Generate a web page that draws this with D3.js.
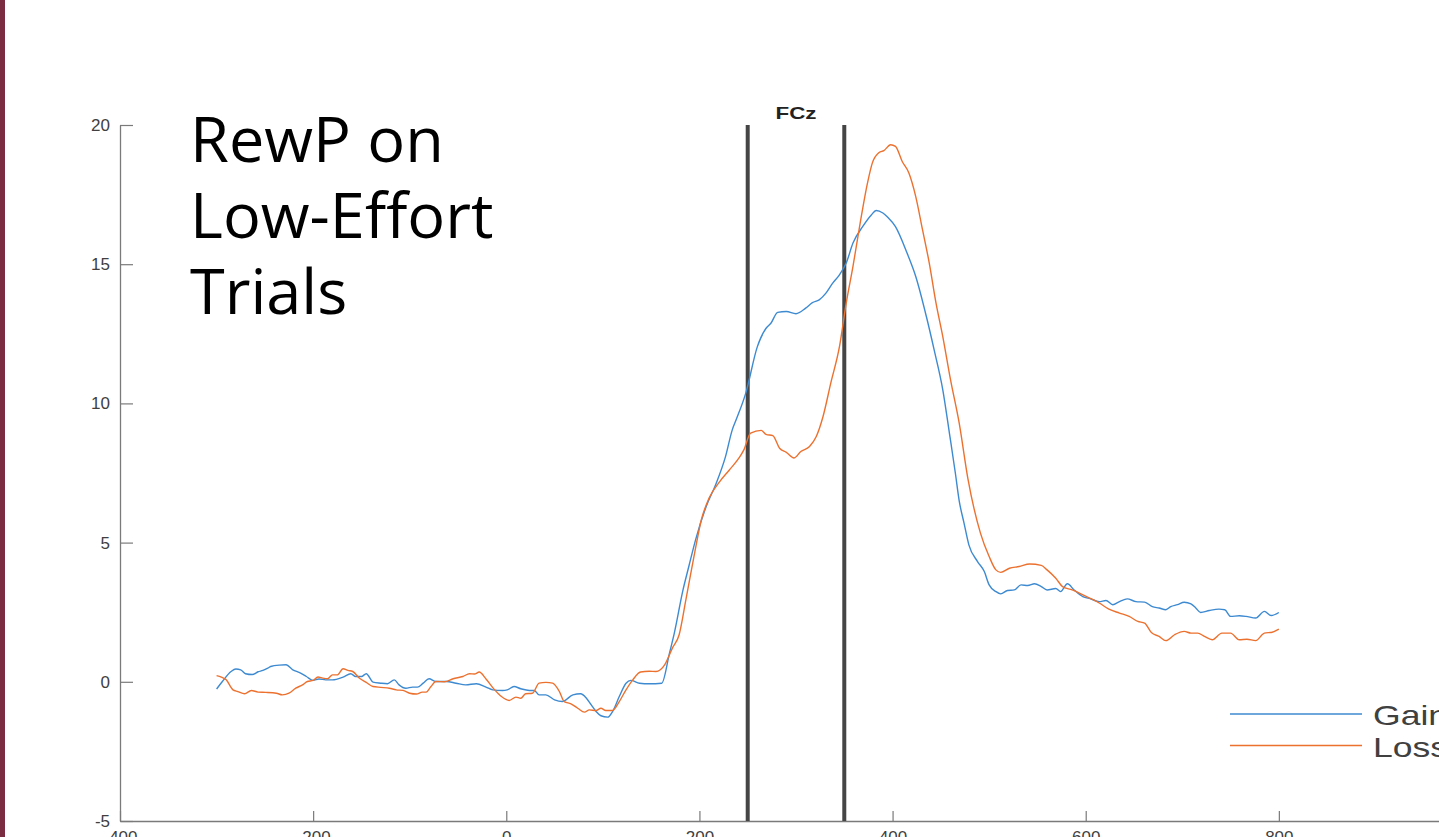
<!DOCTYPE html>
<html>
<head>
<meta charset="utf-8">
<script src="https://cdn.jsdelivr.net/npm/d3@7/dist/d3.min.js"></script>
<style>
  html, body { margin: 0; padding: 0; background: #fff; overflow: hidden; }
  svg { display: block; }
</style>
</head>
<body>
<svg id="chart" width="1439" height="837"></svg>
<script>
// ---- data (time in ms, amplitude in µV) ----
const gainTime = [-300,-294,-285,-280,-275,-270,-263,-257,-252,-247,-244,-235,-228,-221,-214,-207,-200,-194,-187,-180,-169,-161,-156,-150,-145,-138,-130,-123,-116,-111,-104,-97,-92,-86,-80,-73,-62,-52,-42,-31,-21,-14,-4,1,8,15,24,29,34,41,50,58,69,77,83,88,93,98,105,110,117,124,129,138,148,161,169,174,183,189,196,207,217,227,234,238,248,260,269,274,281,290,300,310,317,324,331,338,345,352,359,369,378,383,390,395,403,415,424,435,443,452,459,465,469,474,479,488,495,500,507,512,519,526,533,540,547,554,560,569,574,581,588,597,605,614,621,628,635,643,652,661,669,676,683,688,695,702,709,714,719,728,738,744,750,759,766,776,785,792,800];
const gainValues = [-0.26,0.01,0.37,0.46,0.43,0.29,0.26,0.36,0.41,0.49,0.55,0.60,0.61,0.43,0.33,0.19,0.05,0.10,0.07,0.07,0.17,0.29,0.19,0.19,0.29,-0.01,-0.05,-0.07,0.07,-0.11,-0.23,-0.19,-0.19,-0.05,0.11,0.01,0.01,-0.05,-0.11,-0.07,-0.19,-0.29,-0.31,-0.29,-0.17,-0.25,-0.31,-0.31,-0.47,-0.47,-0.65,-0.71,-0.47,-0.43,-0.59,-0.83,-1.07,-1.22,-1.27,-1.07,-0.53,-0.05,0.05,-0.05,-0.07,-0.05,1.03,1.75,3.30,4.14,5.10,6.30,7.10,8.09,9.05,9.41,10.37,12.04,12.70,12.88,13.27,13.30,13.22,13.42,13.62,13.72,13.96,14.32,14.62,15.04,15.76,16.35,16.77,16.93,16.84,16.69,16.35,15.40,14.56,13.12,11.93,10.49,8.90,7.50,6.50,5.70,4.92,4.32,3.96,3.48,3.24,3.16,3.28,3.30,3.48,3.46,3.52,3.42,3.30,3.35,3.24,3.52,3.30,3.06,2.98,2.88,2.92,2.77,2.88,2.98,2.88,2.86,2.70,2.65,2.59,2.70,2.77,2.86,2.80,2.65,2.49,2.56,2.61,2.59,2.35,2.37,2.35,2.29,2.53,2.38,2.49];

const lossTime = [-300,-295,-290,-283,-278,-271,-264,-257,-249,-238,-232,-225,-218,-211,-206,-200,-195,-190,-185,-180,-175,-169,-164,-159,-152,-145,-138,-130,-121,-114,-107,-100,-93,-87,-83,-78,-73,-64,-55,-45,-38,-33,-28,-21,-12,-5,3,10,15,20,27,34,41,48,55,60,67,74,81,86,93,98,103,110,117,124,131,139,148,155,164,172,179,186,195,202,210,221,231,241,246,253,264,269,276,283,290,298,305,314,321,328,336,345,352,359,367,374,379,386,391,398,403,410,417,424,431,438,445,452,460,469,478,491,500,507,512,521,531,542,554,560,569,576,586,595,604,614,624,635,645,654,661,668,676,683,692,702,709,716,723,731,741,750,759,767,776,785,793,800];
const lossValues = [0.22,0.17,0.07,-0.29,-0.35,-0.43,-0.31,-0.37,-0.38,-0.41,-0.47,-0.41,-0.23,-0.11,0.01,0.05,0.17,0.13,0.11,0.25,0.25,0.47,0.41,0.37,0.13,-0.02,-0.17,-0.20,-0.23,-0.29,-0.31,-0.41,-0.44,-0.37,-0.37,-0.17,0.01,0.00,0.11,0.19,0.29,0.28,0.35,0.10,-0.29,-0.53,-0.67,-0.55,-0.59,-0.43,-0.41,-0.05,-0.02,-0.05,-0.35,-0.71,-0.79,-0.95,-1.09,-1.01,-1.03,-0.95,-1.03,-1.03,-0.71,-0.29,0.07,0.35,0.38,0.37,0.61,1.21,1.69,2.95,4.62,5.82,6.60,7.19,7.61,8.04,8.33,8.93,9.03,8.89,8.84,8.39,8.24,8.04,8.27,8.45,8.81,9.53,10.73,12.04,13.60,14.92,16.59,17.91,18.63,19.01,19.08,19.29,19.23,18.69,18.27,17.43,16.24,15.04,13.60,12.40,10.85,9.29,7.30,5.34,4.50,4.02,3.93,4.08,4.14,4.23,4.18,4.02,3.72,3.42,3.30,3.16,3.01,2.83,2.61,2.47,2.35,2.17,2.11,1.77,1.63,1.48,1.69,1.81,1.75,1.75,1.63,1.51,1.75,1.75,1.51,1.53,1.48,1.75,1.78,1.89];

const xTicks = [-400, -200, 0, 200, 400, 600, 800, 1000];
const yTicks = [-5, 0, 5, 10, 15, 20];
const xDomain = [-400, 1000];
const yDomain = [-5, 20];
const windowMarks = [250, 350];
const seriesNames = ["Gain", "Loss"];
const seriesColors = ["#3d8ad1", "#ec712f"];
const titleLines = ["RewP on", "Low-Effort", "Trials"];
const electrode = "FCz";

// ---- drawing ----
const svg = d3.select("#chart");

// maroon strip on the left edge
svg.append("rect").attr("x", 0).attr("y", 0).attr("width", 5).attr("height", 837).attr("fill", "#7b2c43");

const x = d3.scaleLinear().domain(xDomain).range([120, 1472]);
const y = d3.scaleLinear().domain(yDomain).range([821, 125]);

const axisColor = "#7a7a7a";
const labelColor = "#404040";
const axisFont = "'Liberation Sans', Arial, Helvetica, sans-serif";
const fmt = d => String(d);

const gx = svg.append("g").attr("transform", `translate(0,${y(-5)})`)
  .call(d3.axisBottom(x).tickValues(xTicks).tickFormat(fmt).tickSize(-10).tickSizeOuter(0).tickPadding(10));
const gy = svg.append("g").attr("transform", `translate(${x(-400)},0)`)
  .call(d3.axisLeft(y).tickValues(yTicks).tickFormat(fmt).tickSize(-13).tickSizeOuter(0).tickPadding(10));

[gx, gy].forEach(g => {
  g.select(".domain").attr("stroke", axisColor).attr("stroke-width", 1.3);
  g.selectAll(".tick line").attr("stroke", axisColor).attr("stroke-width", 1.2);
  g.selectAll(".tick text").attr("fill", labelColor).style("font-family", axisFont).style("font-size", "17px");
});

// analysis window lines
svg.selectAll("line.win").data(windowMarks).join("line")
  .attr("class", "win")
  .attr("x1", d => x(d)).attr("x2", d => x(d))
  .attr("y1", y(20)).attr("y2", y(-5))
  .attr("stroke", "#454545").attr("stroke-width", 4);

// electrode label
svg.append("text").attr("x", (x(250) + x(350)) / 2).attr("y", 119)
  .attr("text-anchor", "middle")
  .attr("textLength", 41).attr("lengthAdjust", "spacingAndGlyphs")
  .style("font-family", axisFont).style("font-weight", "bold").style("font-size", "17px")
  .attr("fill", "#222").text(electrode);

// waveforms
const line = d3.line().x(d => x(d[0])).y(d => y(d[1])).curve(d3.curveMonotoneX);
const series = [
  gainTime.map((t, i) => [t, gainValues[i]]),
  lossTime.map((t, i) => [t, lossValues[i]])
];
svg.selectAll("path.wave").data(series).join("path")
  .attr("class", "wave")
  .attr("d", line)
  .attr("fill", "none")
  .attr("stroke", (d, i) => seriesColors[i])
  .attr("stroke-width", 1.4)
  .attr("stroke-linejoin", "round");

// legend (text runs off the right edge, as in the reference)
const lg = svg.append("g");
seriesNames.forEach((name, i) => {
  const ly = 714 + i * 31.5;
  lg.append("line").attr("x1", 1230).attr("x2", 1362).attr("y1", ly).attr("y2", ly)
    .attr("stroke", seriesColors[i]).attr("stroke-width", 1.6);
  lg.append("text").attr("transform", `translate(1373,${ly + 11}) scale(1.27,1)`)
    .style("font-family", axisFont).style("font-size", "28px")
    .attr("fill", labelColor).text(name);
});

// big title text
const tt = svg.append("text").attr("x", 190).attr("y", 162)
  .style("font-family", "'Open Sans', 'Noto Sans', sans-serif").style("font-size", "63px")
  .attr("fill", "#000");
titleLines.forEach((t, i) => {
  tt.append("tspan").attr("x", 190).attr("dy", i === 0 ? 0 : 76).text(t);
});
</script>
</body>
</html>
